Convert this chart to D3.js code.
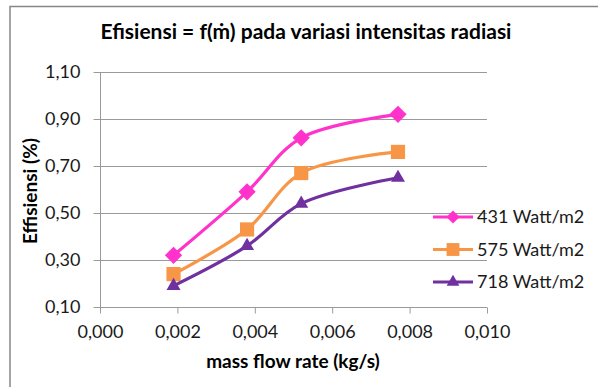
<!DOCTYPE html>
<html>
<head>
<meta charset="utf-8">
<script src="https://cdn.jsdelivr.net/npm/d3@7"></script>
<style>
  html, body { margin: 0; padding: 0; background: #fff; }
  svg { display: block; font-family: Lato, "Open Sans", sans-serif; }
</style>
</head>
<body>
<div id="chart"></div>
<script>
// Data
const flowRates = [0.0019, 0.0038, 0.0052, 0.0077];
const series431 = [0.32, 0.59, 0.82, 0.92];
const series575 = [0.24, 0.43, 0.67, 0.76];
const series718 = [0.19, 0.36, 0.54, 0.65];
const seriesNames = ['431 Watt/m2', '575 Watt/m2', '718 Watt/m2'];
const xTicks = [0, 0.002, 0.004, 0.006, 0.008, 0.010];
const yTicks = [0.10, 0.30, 0.50, 0.70, 0.90, 1.10];

const W = 598, H = 387;
const plot = { left: 100, right: 487, top: 72, bottom: 307 };

const series = [
  { name: seriesNames[0], values: series431, color: '#FF33CC', symbol: d3.symbolDiamond2, size: 190, lsize: 110 },
  { name: seriesNames[1], values: series575, color: '#F79646', symbol: d3.symbolSquare2, size: 256, lsize: 210 },
  { name: seriesNames[2], values: series718, color: '#7030A0', symbol: d3.symbolTriangle2, size: 140, lsize: 115 }
];

const svg = d3.select('#chart').append('svg')
  .attr('width', W).attr('height', H);

// chart frame (only top & left visible in the crop)
svg.append('rect')
  .attr('x', 10).attr('y', 6.5)
  .attr('width', W + 20).attr('height', H + 20)
  .attr('fill', 'none').attr('stroke', '#868686').attr('stroke-width', 1.5);

const x = d3.scaleLinear().domain([0, 0.010]).range([plot.left, plot.right]);
const y = d3.scaleLinear().domain([0.10, 1.10]).range([plot.bottom, plot.top]);
const fmtComma = (d, n) => d3.format(`.${n}f`)(d).replace('.', ',');

// horizontal gridlines
svg.append('g')
  .selectAll('line')
  .data(yTicks.slice(1))
  .join('line')
  .attr('x1', plot.left).attr('x2', plot.right)
  .attr('y1', d => Math.round(y(d)) + 0.5).attr('y2', d => Math.round(y(d)) + 0.5)
  .attr('stroke', '#9a9a9a').attr('stroke-width', 1);

// Axes
const xAxis = svg.append('g')
  .attr('transform', `translate(0,${plot.bottom + 0.5})`)
  .call(d3.axisBottom(x).tickValues(xTicks).tickSize(6).tickPadding(12).tickFormat(d => fmtComma(d, 3)));

const yAxis = svg.append('g')
  .attr('transform', `translate(${plot.left + 0.5},0)`)
  .call(d3.axisLeft(y).tickValues(yTicks).tickSize(7).tickPadding(13).tickFormat(d => fmtComma(d, 2)));

[xAxis, yAxis].forEach(g => {
  g.select('.domain').attr('stroke', '#9a9a9a');
  g.selectAll('.tick line').attr('stroke', '#9a9a9a');
  g.selectAll('text')
    .attr('font-family', 'Lato, sans-serif')
    .attr('font-size', '18px')
    .attr('fill', '#1a1a1a');
});
// no outer tick ends
xAxis.select('.domain').attr('d', `M${plot.left},0H${plot.right}`);
yAxis.select('.domain').attr('d', `M0,${plot.top}V${plot.bottom}`);

// series lines + markers
const line = d3.line()
  .x((d, i) => x(flowRates[i]))
  .y(d => y(d))
  .curve(d3.curveCatmullRom.alpha(0.5));

series.forEach(s => {
  const g = svg.append('g');
  g.append('path')
    .datum(s.values)
    .attr('d', line)
    .attr('fill', 'none')
    .attr('stroke', s.color)
    .attr('stroke-width', 3.2)
    .attr('stroke-linejoin', 'round');
  g.selectAll('path.marker')
    .data(s.values)
    .join('path')
    .attr('class', 'marker')
    .attr('transform', (d, i) => `translate(${x(flowRates[i])},${y(d)})`)
    .attr('d', d3.symbol().type(s.symbol).size(s.size))
    .attr('fill', s.color);
});

// Legend
const legend = svg.append('g').attr('transform', 'translate(433,217)');
series.forEach((s, i) => {
  const row = legend.append('g').attr('transform', `translate(0,${i * 32.5})`);
  row.append('line')
    .attr('x1', 0).attr('x2', 40)
    .attr('stroke', s.color).attr('stroke-width', 3.2);
  row.append('path')
    .attr('transform', 'translate(20,0)')
    .attr('d', d3.symbol().type(s.symbol).size(s.lsize))
    .attr('fill', s.color);
  row.append('text')
    .attr('x', 44).attr('y', 0).attr('dy', '0.35em')
    .attr('font-size', '18px')
    .attr('fill', '#1a1a1a')
    .text(s.name);
});

// Titles
svg.append('text')
  .attr('x', 306).attr('y', 39)
  .attr('text-anchor', 'middle')
  .attr('font-size', '21px').attr('font-weight', 'bold')
  .text('Efisiensi = f(ṁ) pada variasi intensitas radiasi');

svg.append('text')
  .attr('x', 293).attr('y', 368)
  .attr('text-anchor', 'middle')
  .attr('font-size', '19px').attr('font-weight', 'bold')
  .text('mass flow rate (kg/s)');

svg.append('text')
  .attr('transform', 'translate(37,191) rotate(-90)')
  .attr('text-anchor', 'middle')
  .attr('font-size', '19px').attr('font-weight', 'bold')
  .text('Effisiensi (%)');
</script>
</body>
</html>
